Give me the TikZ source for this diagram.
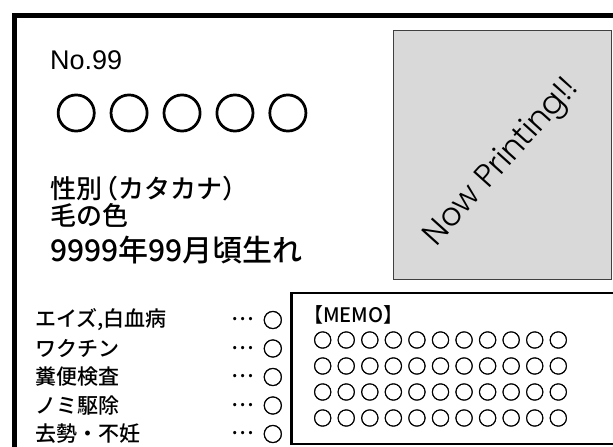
\documentclass[tikz,border=0pt]{standalone}
\usepackage{fontspec}
\setmainfont{Noto Sans CJK JP Medium}[BoldFont={Noto Sans CJK JP Bold}]
\newfontfamily\latinfont{Liberation Sans}
\newfontfamily\thinfont{Poppins Light}
\usepackage{xcolor}
\usetikzlibrary{positioning}
\definecolor{photogray}{HTML}{D9D9D9}
\newcommand{\fsz}[1]{\fontsize{#1}{#1}\selectfont}
\newcommand{\dotsok}{\raisebox{.32em}{…}\hspace{9pt}{\fsz{20}\addfontfeature{FakeBold=2}○}}

\tikzset{
  txt/.style={anchor=west, inner sep=0pt},
  frameline/.style={line width=5pt},
  photobox/.style={draw=black!75, fill=photogray, line width=1pt},
  memobox/.style={draw, line width=2.5pt},
  item/.style={txt, font=\fsz{21}},
  check/.style={txt, font=\fsz{21}},
  circles/.style={txt, font=\fsz{19}\addfontfeature{LetterSpace=24,FakeBold=2}},
}

\begin{document}
\begin{tikzpicture}[x=1pt,y=-1pt]
\useasboundingbox (0,0) rectangle (613,447);
\clip (0,0) rectangle (613,447);
% frame
 \draw[frameline] (14.5,460) -- (14.5,15.5) -- (640,15.5);
 \draw[photobox] (393,30) rectangle (611.5,279);
 \draw[memobox] (291.5,293) rectangle (650,444);
% nodes
 \node[txt, font=\latinfont\fsz{27}] (no) at (50,60.5) {No.99};
 \node[txt, font=\fsz{42}\addfontfeature{LetterSpace=26,FakeBold=2.5}] (name) at (55,113) {○○○○○};
 \node[txt, font=\fsz{26}] (sex) at (50,188.5) {性別\kern-10pt（カタカナ）};
 \node[txt, font=\fsz{26}] (color) at (50,215.5) {毛の色};
 \node[txt, font=\fsz{30}] (birth) at (50,250) {9999年99月頃生れ};
 \node[font=\thinfont\fsz{32}, rotate=48] (printing) at (502,163) {Now Printing!!};
% check list
 \node[item] (aids) at (35,320) {エイズ,白血病};
 \node[item, below=28.5pt of aids.west, anchor=west] (vaccine) {ワクチン};
 \node[item, below=28.5pt of vaccine.west, anchor=west] (stool) {糞便検査};
 \node[item, below=28.5pt of stool.west, anchor=west] (flea) {ノミ駆除};
 \node[item, below=28.5pt of flea.west, anchor=west] (neuter) {去勢・不妊};
 \node[check] (aidsok) at (231,320) {\dotsok};
 \node[check] (vaccineok) at (231,348.5) {\dotsok};
 \node[check] (stoolok) at (231,377) {\dotsok};
 \node[check] (fleaok) at (231,405.5) {\dotsok};
 \node[check] (neuterok) at (231,434) {\dotsok};
% memo
 \node[txt, font=\fsz{20}] (memo) at (303,315) {【MEMO】};
 \node[circles] (memo1) at (313,340) {○○○○○○○○○○○};
 \node[circles, below=26pt of memo1.west, anchor=west] (memo2) {○○○○○○○○○○○};
 \node[circles, below=26pt of memo2.west, anchor=west] (memo3) {○○○○○○○○○○○};
 \node[circles, below=26pt of memo3.west, anchor=west] (memo4) {○○○○○○○○○○○};
\end{tikzpicture}
\end{document}
